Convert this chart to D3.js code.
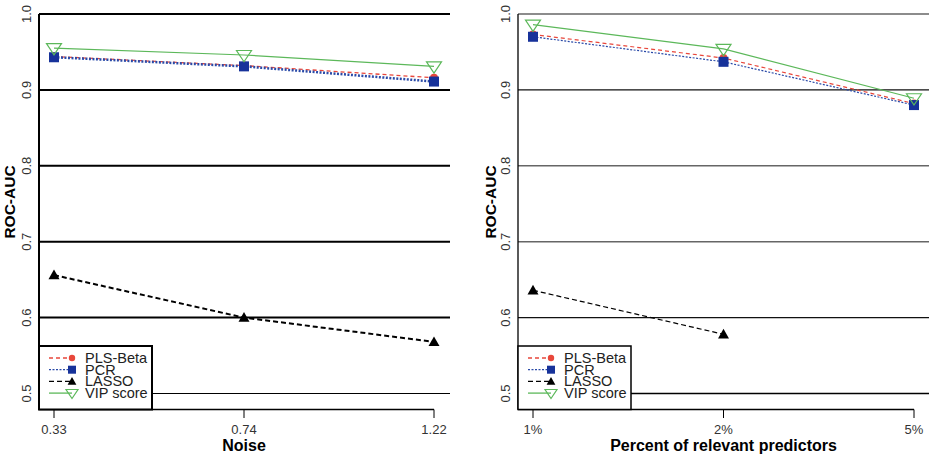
<!DOCTYPE html>
<html>
<head>
<meta charset="utf-8">
<script src="https://cdn.jsdelivr.net/npm/d3@7"></script>
<style>
  body { margin: 0; background: #fff; }
  text { font-family: "Liberation Sans", Arial, Helvetica, sans-serif; }
</style>
</head>
<body>
<div id="chart"></div>
<script>
// data
var methods = ["PLS-Beta", "PCR", "LASSO", "VIP score"];
var yTicks = [0.5, 0.6, 0.7, 0.8, 0.9, 1.0];

var noiseLevels = ["0.33", "0.74", "1.22"];
var noisePLS = [0.944, 0.932, 0.916];
var noisePCR = [0.943, 0.931, 0.911];
var noiseLASSO = [0.656, 0.600, 0.568];
var noiseVIP = [0.955, 0.946, 0.931];

var pctLevels = ["1%", "2%", "5%"];
var pctPLS = [0.973, 0.942, 0.882];
var pctPCR = [0.970, 0.937, 0.880];
var pctLASSO = [0.636, 0.578, null];
var pctVIP = [0.986, 0.954, 0.889];

var width = 942, height = 460;

var svg = d3.select("#chart").append("svg")
    .attr("width", width)
    .attr("height", height);

var styles = {
    "PLS-Beta": { color: "#e8473b", dash: "4,3", sym: "circle" },
    "PCR": { color: "#2a4aa8", dash: "2,1.5", sym: "square" },
    "LASSO": { color: "#000", dash: "5,3", sym: "triUp" },
    "VIP score": { color: "#5cb85a", dash: null, sym: "triDown" }
};

function drawSymbol(g, sym, x, y, big) {
    var s = big ? 1 : 0.8;
    if (sym === "circle") {
        g.append("circle").attr("cx", x).attr("cy", y).attr("r", 4 * s)
            .attr("fill", "#e8473b");
    } else if (sym === "square") {
        var h = 5 * s;
        g.append("rect").attr("x", x - h).attr("y", y - h)
            .attr("width", 2 * h).attr("height", 2 * h)
            .attr("fill", "#17329a");
    } else if (sym === "triUp") {
        var t = 5.5 * s;
        g.append("path")
            .attr("d", "M" + x + "," + (y - t) + "L" + (x + t) + "," + (y + t * 0.75) + "L" + (x - t) + "," + (y + t * 0.75) + "Z")
            .attr("fill", "#000");
    } else if (sym === "triDown") {
        var u = 7.5 * s;
        g.append("path")
            .attr("d", "M" + (x - u) + "," + (y - u * 0.6) + "L" + (x + u) + "," + (y - u * 0.6) + "L" + x + "," + (y + u * 0.9) + "Z")
            .attr("fill", "none").attr("stroke", "#5cb85a").attr("stroke-width", 1.2);
    }
}

function panel(opts) {
    var g = svg.append("g");
    var x = d3.scalePoint().domain(opts.levels).range(opts.xRange);
    var y = d3.scaleLinear().domain([0.5, 1.0]).range([393.5, 14]);

    // grid lines
    g.selectAll("line.grid")
        .data(yTicks)
        .enter()
        .append("line")
        .attr("class", "grid")
        .attr("x1", opts.axisX)
        .attr("x2", opts.gridEnd)
        .attr("y1", function (d) { return y(d); })
        .attr("y2", function (d) { return y(d); })
        .attr("stroke", function (d, i) { return opts.gridColor[i]; })
        .attr("stroke-width", function (d, i) { return opts.gridWidth[i]; });

    // y axis line
    g.append("line")
        .attr("x1", opts.axisX).attr("x2", opts.axisX)
        .attr("y1", 14).attr("y2", 409.5)
        .attr("stroke", "#000").attr("stroke-width", opts.thick ? 2 : 1.3);

    // y tick labels (rotated like R's default)
    g.selectAll("text.ytick")
        .data(yTicks)
        .enter()
        .append("text")
        .attr("class", "ytick")
        .attr("transform", function (d) {
            return "translate(" + (opts.axisX - 8) + "," + y(d) + ") rotate(-90)";
        })
        .attr("text-anchor", "middle")
        .attr("font-size", 13)
        .attr("fill", "#333")
        .text(function (d) { return d3.format(".1f")(d); });

    g.append("text")
        .attr("transform", "translate(" + (opts.axisX - opts.labelOff) + ",202) rotate(-90)")
        .attr("text-anchor", "middle")
        .attr("font-size", 15.5)
        .attr("font-weight", "bold")
        .text("ROC-AUC");

    // x axis
    var xr = x.range();
    g.append("line")
        .attr("x1", opts.axisX).attr("x2", xr[1])
        .attr("y1", 409.5).attr("y2", 409.5)
        .attr("stroke", "#000").attr("stroke-width", 1.3);
    g.selectAll("line.xtick")
        .data(opts.levels)
        .enter()
        .append("line")
        .attr("class", "xtick")
        .attr("x1", function (d) { return x(d); })
        .attr("x2", function (d) { return x(d); })
        .attr("y1", 409.5).attr("y2", 418)
        .attr("stroke", "#000").attr("stroke-width", 1);
    g.selectAll("text.xtick")
        .data(opts.levels)
        .enter()
        .append("text")
        .attr("class", "xtick")
        .attr("x", function (d) { return x(d); })
        .attr("y", 434)
        .attr("text-anchor", "middle")
        .attr("font-size", 13)
        .attr("fill", "#333")
        .text(function (d) { return d; });
    g.append("text")
        .attr("x", (xr[0] + xr[1]) / 2)
        .attr("y", 451)
        .attr("text-anchor", "middle")
        .attr("font-size", 16)
        .attr("font-weight", "bold")
        .text(opts.xLabel);

    // series
    methods.forEach(function (m, k) {
        var vals = opts.series[k];
        var st = styles[m];
        var pts = opts.levels.map(function (l, i) { return { l: l, v: vals[i] }; })
            .filter(function (d) { return d.v != null; });
        var line = d3.line()
            .x(function (d) { return x(d.l); })
            .y(function (d) { return y(d.v); });
        g.append("path")
            .datum(pts)
            .attr("d", line)
            .attr("fill", "none")
            .attr("stroke", st.color)
            .attr("stroke-width", opts.thick ? opts.lineWidth[k] : 1.2)
            .attr("stroke-dasharray", st.dash);
        pts.forEach(function (d) {
            drawSymbol(g, st.sym, x(d.l), y(d.v), true);
        });
    });

    // legend
    var lg = g.append("g");
    lg.append("rect")
        .attr("x", opts.axisX).attr("y", 346)
        .attr("width", 113).attr("height", 63.5)
        .attr("fill", "#fff")
        .attr("stroke", "#000").attr("stroke-width", opts.thick ? 2 : 1.5);
    methods.forEach(function (m, k) {
        var st = styles[m];
        var ly = 358 + k * 11.7;
        var sx = opts.axisX + 33;
        lg.append("line")
            .attr("x1", opts.axisX + 10).attr("x2", sx)
            .attr("y1", ly).attr("y2", ly)
            .attr("stroke", st.color)
            .attr("stroke-width", 1.3)
            .attr("stroke-dasharray", st.dash);
        drawSymbol(lg, st.sym, sx, ly, false);
        lg.append("text")
            .attr("x", opts.axisX + 46)
            .attr("y", ly + 5)
            .attr("font-size", 14.5)
            .attr("fill", "#222")
            .text(m);
    });
}

panel({
    levels: noiseLevels,
    xRange: [54, 434],
    axisX: 39,
    gridEnd: 450,
    thick: true,
    labelOff: 24,
    gridColor: ["#000", "#000", "#000", "#000", "#000", "#000"],
    gridWidth: [1.2, 2, 2, 2, 2, 2],
    lineWidth: [1.3, 2.5, 2, 1.2],
    xLabel: "Noise",
    series: [noisePLS, noisePCR, noiseLASSO, noiseVIP]
});

panel({
    levels: pctLevels,
    xRange: [533, 914],
    axisX: 518,
    gridEnd: 929,
    thick: false,
    labelOff: 22,
    gridColor: ["#000", "#111", "#666", "#666", "#111", "#666"],
    gridWidth: [1.3, 1.3, 1.5, 1.5, 1.3, 1.5],
    xLabel: "Percent of relevant predictors",
    series: [pctPLS, pctPCR, pctLASSO, pctVIP]
});
</script>
</body>
</html>
